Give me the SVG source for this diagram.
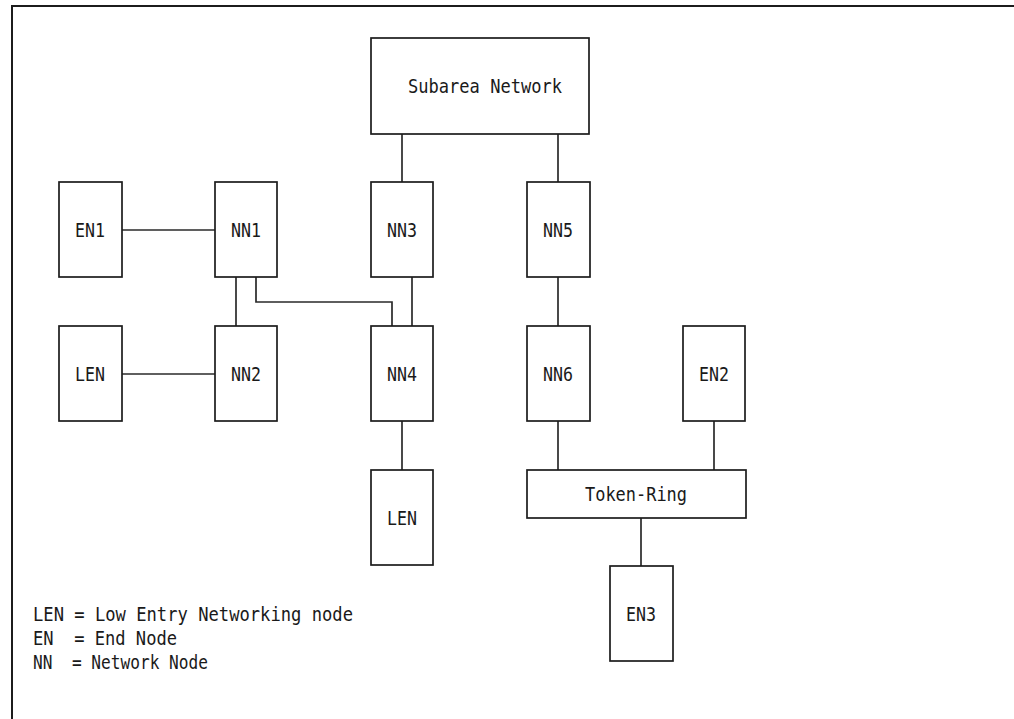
<svg xmlns="http://www.w3.org/2000/svg" width="1014" height="719" viewBox="0 0 1014 719">
  <style>
    .box { fill: #ffffff; stroke: #1c1c1c; stroke-width: 1.7; }
    .frame { fill: none; stroke: #1c1c1c; stroke-width: 2; }
    .link { fill: none; stroke: #2a2a2a; stroke-width: 1.7; }
    .lbl { font-family: "DejaVu Sans Mono", "Liberation Mono", monospace; font-size: 19px; fill: #1a1a1a; text-anchor: middle; }
    .key { font-family: "DejaVu Sans Mono", "Liberation Mono", monospace; font-size: 19px; fill: #1a1a1a; white-space: pre; }
  </style>
  <rect width="1014" height="719" fill="#ffffff"/>

  <!-- page frame (top and left edges) -->
  <path class="frame" d="M12 719 V6 H1014"/>

  <!-- connectors -->
  <g id="connectors">
    <path class="link" d="M402 134 V182"/>
    <path class="link" d="M558 134 V182"/>
    <path class="link" d="M122 230 H215"/>
    <path class="link" d="M122 374 H215"/>
    <path class="link" d="M236 277 V326"/>
    <path class="link" d="M256 277 V302 H392 V326"/>
    <path class="link" d="M412 277 V326"/>
    <path class="link" d="M558 277 V326"/>
    <path class="link" d="M402 421 V470"/>
    <path class="link" d="M558 421 V470"/>
    <path class="link" d="M714 421 V470"/>
    <path class="link" d="M641 518 V566"/>
  </g>

  <!-- nodes -->
  <g id="subarea">
    <rect class="box" x="371" y="38" width="218" height="96"/>
    <text class="lbl" x="485" y="93" textLength="154" lengthAdjust="spacingAndGlyphs">Subarea Network</text>
  </g>
  <g id="en1">
    <rect class="box" x="59" y="182" width="63" height="95"/>
    <text class="lbl" x="90" y="237" textLength="30" lengthAdjust="spacingAndGlyphs">EN1</text>
  </g>
  <g id="nn1">
    <rect class="box" x="215" y="182" width="62" height="95"/>
    <text class="lbl" x="246" y="237" textLength="30" lengthAdjust="spacingAndGlyphs">NN1</text>
  </g>
  <g id="nn3">
    <rect class="box" x="371" y="182" width="62" height="95"/>
    <text class="lbl" x="402" y="237" textLength="30" lengthAdjust="spacingAndGlyphs">NN3</text>
  </g>
  <g id="nn5">
    <rect class="box" x="527" y="182" width="63" height="95"/>
    <text class="lbl" x="558" y="237" textLength="30" lengthAdjust="spacingAndGlyphs">NN5</text>
  </g>
  <g id="len1">
    <rect class="box" x="59" y="326" width="63" height="95"/>
    <text class="lbl" x="90" y="381" textLength="30" lengthAdjust="spacingAndGlyphs">LEN</text>
  </g>
  <g id="nn2">
    <rect class="box" x="215" y="326" width="62" height="95"/>
    <text class="lbl" x="246" y="381" textLength="30" lengthAdjust="spacingAndGlyphs">NN2</text>
  </g>
  <g id="nn4">
    <rect class="box" x="371" y="326" width="62" height="95"/>
    <text class="lbl" x="402" y="381" textLength="30" lengthAdjust="spacingAndGlyphs">NN4</text>
  </g>
  <g id="nn6">
    <rect class="box" x="527" y="326" width="63" height="95"/>
    <text class="lbl" x="558" y="381" textLength="30" lengthAdjust="spacingAndGlyphs">NN6</text>
  </g>
  <g id="en2">
    <rect class="box" x="683" y="326" width="62" height="95"/>
    <text class="lbl" x="714" y="381" textLength="30" lengthAdjust="spacingAndGlyphs">EN2</text>
  </g>
  <g id="len2">
    <rect class="box" x="371" y="470" width="62" height="95"/>
    <text class="lbl" x="402" y="525" textLength="30" lengthAdjust="spacingAndGlyphs">LEN</text>
  </g>
  <g id="token-ring">
    <rect class="box" x="527" y="470" width="219" height="48"/>
    <text class="lbl" x="636" y="501" textLength="102" lengthAdjust="spacingAndGlyphs">Token-Ring</text>
  </g>
  <g id="en3">
    <rect class="box" x="610" y="566" width="63" height="95"/>
    <text class="lbl" x="641" y="621" textLength="30" lengthAdjust="spacingAndGlyphs">EN3</text>
  </g>

  <!-- key -->
  <g id="legend">
    <text class="key" x="33" y="621" textLength="320" lengthAdjust="spacingAndGlyphs">LEN = Low Entry Networking node</text>
    <text class="key" x="33" y="645" textLength="144" lengthAdjust="spacingAndGlyphs">EN  = End Node</text>
    <text class="key" x="33" y="669" textLength="175" lengthAdjust="spacingAndGlyphs">NN  = Network Node</text>
  </g>
</svg>
